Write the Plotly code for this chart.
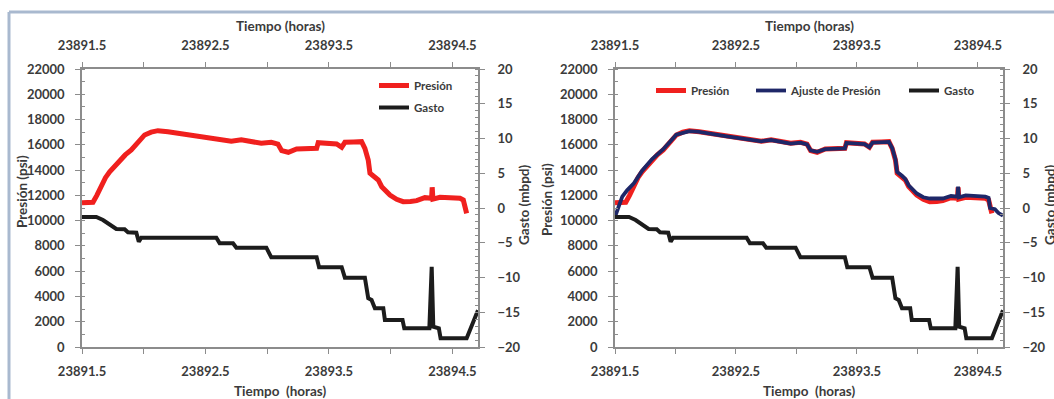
import plotly.graph_objects as go

# ---------------- data ----------------
tiempo_presion = [23891.500, 23891.589, 23891.620, 23891.656, 23891.690, 23891.724, 23891.765,
                  23891.805, 23891.850, 23891.899, 23891.950, 23892.007, 23892.060, 23892.115,
                  23892.196, 23892.300, 23892.412, 23892.500, 23892.601, 23892.709, 23892.790,
                  23892.870, 23892.952, 23893.033, 23893.087, 23893.117, 23893.171, 23893.238,
                  23893.300, 23893.400, 23893.413, 23893.490, 23893.562, 23893.603, 23893.629,
                  23893.700, 23893.764, 23893.791, 23893.818, 23893.832, 23893.872, 23893.899,
                  23893.927, 23893.960, 23893.994, 23894.048, 23894.101, 23894.160, 23894.210,
                  23894.277, 23894.331, 23894.336, 23894.342, 23894.399, 23894.480, 23894.561,
                  23894.588, 23894.615]
presion = [11420, 11450, 12000, 12820, 13400, 13870, 14350,
           14800, 15200, 15590, 16150, 16780, 17000, 17120,
           17040, 16880, 16700, 16580, 16440, 16280, 16400,
           16250, 16120, 16200, 16060, 15540, 15410, 15670,
           15700, 15720, 16170, 16120, 16065, 15800, 16200,
           16230, 16250, 15720, 14800, 13750, 13480, 13220,
           12690, 12350, 12030, 11690, 11500, 11520, 11580,
           11820, 11770, 12640, 11700, 11850, 11800, 11770,
           11630, 10580]

tiempo_ajuste = [23891.500, 23891.530, 23891.560, 23891.600, 23891.656, 23891.724, 23891.805,
                 23891.899, 23892.007, 23892.115, 23892.196, 23892.412, 23892.601, 23892.709,
                 23892.790, 23892.952, 23893.033, 23893.087, 23893.117, 23893.171, 23893.238,
                 23893.400, 23893.413, 23893.562, 23893.603, 23893.629, 23893.764, 23893.791,
                 23893.818, 23893.832, 23893.872, 23893.899, 23893.927, 23893.994, 23894.048,
                 23894.101, 23894.210, 23894.277, 23894.331, 23894.336, 23894.342, 23894.399,
                 23894.561, 23894.588, 23894.600, 23894.640, 23894.670, 23894.707]
ajuste_presion = [10300, 11200, 11900, 12400, 12950, 13950, 14850,
                  15650, 16800, 17080, 17020, 16690, 16430, 16280,
                  16380, 16100, 16170, 16040, 15560, 15450, 15660,
                  15720, 16150, 16060, 15820, 16180, 16230, 15750,
                  14850, 13850, 13550, 13300, 12800, 12150, 11850,
                  11750, 11750, 11950, 11900, 12700, 11850, 12000,
                  11900, 11800, 11000, 10900, 10600, 10400]

tiempo_gasto = [23891.500, 23891.616, 23891.670, 23891.724, 23891.778, 23891.845, 23891.872,
                23891.940, 23891.960, 23891.980, 23892.588, 23892.615, 23892.723, 23892.750,
                23892.993, 23893.033, 23893.400, 23893.420, 23893.603, 23893.629, 23893.791,
                23893.818, 23893.845, 23893.872, 23893.940, 23893.953, 23894.096, 23894.110,
                23894.313, 23894.332, 23894.345, 23894.390, 23894.404, 23894.615, 23894.707]
gasto = [-1.30, -1.30, -1.73, -2.45, -3.02, -3.07, -3.50,
         -3.55, -4.85, -4.27, -4.27, -5.08, -5.08, -5.71,
         -5.71, -7.10, -7.10, -8.53, -8.53, -10.03, -10.03,
         -12.99, -13.24, -14.43, -14.43, -16.12, -16.12, -17.31,
         -17.31, -8.45, -17.08, -17.31, -18.75, -18.75, -14.70]

x_rango = [23891.5, 23894.707]
x_ticks = [23891.5, 23892.0, 23892.5, 23893.0, 23893.5, 23894.0, 23894.5]
x_labels = ["23891.5", "", "23892.5", "", "23893.5", "", "23894.5"]
p_rango = [0, 22000]
g_rango = [-20, 20]

# ---------------- styling ----------------
W, H = 1054, 399
TXT = "#3b3b3b"
AX = "#8c8c8c"
RED = "#f0201e"
BLUE = "#1e2768"
BLACK = "#1c1c1c"
FONT = dict(family="Lato, 'Open Sans', sans-serif", size=13, color=TXT, weight="bold")


def pxx(v):
    return v / W


def pyy(v):
    return 1 - v / H


fig = go.Figure()

# left panel
fig.add_trace(go.Scatter(x=tiempo_presion, y=presion, name="Presión", mode="lines",
                         line=dict(color=RED, width=5), xaxis="x", yaxis="y",
                         legend="legend", legendgroup="p"))
fig.add_trace(go.Scatter(x=tiempo_gasto, y=gasto, name="Gasto", mode="lines",
                         line=dict(color=BLACK, width=4), xaxis="x", yaxis="y2",
                         legend="legend", legendgroup="g"))
# right panel
fig.add_trace(go.Scatter(x=tiempo_presion, y=presion, name="Presión", mode="lines",
                         line=dict(color=RED, width=5), xaxis="x2", yaxis="y3", legend="legend2"))
fig.add_trace(go.Scatter(x=tiempo_ajuste, y=ajuste_presion, name="Ajuste de Presión", mode="lines",
                         line=dict(color=BLUE, width=3.8), xaxis="x2", yaxis="y3", legend="legend3"))
fig.add_trace(go.Scatter(x=tiempo_gasto, y=gasto, name="Gasto", mode="lines",
                         line=dict(color=BLACK, width=4), xaxis="x2", yaxis="y4", legend="legend4"))
# carriers for the top axes
fig.add_trace(go.Scatter(x=x_rango, y=[None, None], xaxis="x3", yaxis="y", showlegend=False,
                         hoverinfo="skip", mode="lines"))
fig.add_trace(go.Scatter(x=x_rango, y=[None, None], xaxis="x4", yaxis="y3", showlegend=False,
                         hoverinfo="skip", mode="lines"))

common_x = dict(range=x_rango, tickvals=x_ticks, ticktext=x_labels, ticks="outside", ticklen=5,
                tickwidth=1.3, tickcolor=AX, showline=True, linecolor=AX, linewidth=1.6,
                showgrid=False, zeroline=False, tickfont=FONT, ticklabelstandoff=7,
                automargin=False)
common_yp = dict(range=p_rango, dtick=2000, tick0=0, tickformat="d", ticks="outside", ticklen=5,
                 tickwidth=1.3, tickcolor=AX, showline=True, linecolor=AX, linewidth=1.6,
                 showgrid=False, zeroline=False, tickfont=FONT, ticklabelstandoff=8,
                 automargin=False,
                 minor=dict(dtick=1000, ticks="inside", ticklen=3, tickcolor=AX, tickwidth=1))
common_yg = dict(range=g_rango, dtick=5, tick0=0, tickformat="d", ticks="outside", ticklen=5,
                 tickwidth=1.3, tickcolor=AX, showline=True, linecolor=AX, linewidth=1.6,
                 showgrid=False, zeroline=False, tickfont=FONT, ticklabelstandoff=10,
                 automargin=False,
                 minor=dict(dtick=1, ticks="inside", ticklen=3, tickcolor=AX, tickwidth=1))

ydom = [pyy(347), pyy(69)]
xdom1 = [pxx(82), pxx(478)]
xdom2 = [pxx(615), pxx(1003)]

LEGFONT = dict(size=11.5)
fig.update_layout(
    width=W, height=H,
    margin=dict(l=0, r=0, t=0, b=0),
    paper_bgcolor="white", plot_bgcolor="white",
    font=FONT,
    xaxis=dict(domain=xdom1, anchor="y", side="bottom", **common_x),
    xaxis3=dict(overlaying="x", anchor="y", side="top", matches="x", **common_x),
    yaxis=dict(domain=ydom, anchor="x", side="left", **common_yp),
    yaxis2=dict(overlaying="y", anchor="x", side="right", **common_yg),
    xaxis2=dict(domain=xdom2, anchor="y3", side="bottom", **common_x),
    xaxis4=dict(overlaying="x2", anchor="y3", side="top", matches="x2", **common_x),
    yaxis3=dict(domain=ydom, anchor="x2", side="left", **common_yp),
    yaxis4=dict(overlaying="y3", anchor="x2", side="right", **common_yg),
    legend=dict(x=pxx(374), y=pyy(71), xanchor="left", yanchor="top", orientation="v",
                bgcolor="rgba(0,0,0,0)", font=LEGFONT, itemwidth=30, tracegroupgap=3),
    legend2=dict(x=pxx(651), y=pyy(76), xanchor="left", yanchor="top",
                 bgcolor="rgba(0,0,0,0)", font=LEGFONT, itemwidth=30),
    legend3=dict(x=pxx(751), y=pyy(76), xanchor="left", yanchor="top",
                 bgcolor="rgba(0,0,0,0)", font=LEGFONT, itemwidth=30),
    legend4=dict(x=pxx(904), y=pyy(76), xanchor="left", yanchor="top",
                 bgcolor="rgba(0,0,0,0)", font=LEGFONT, itemwidth=30),
    showlegend=True,
)

ann = []


def title(text, x, y, angle=0, size=13.5):
    ann.append(dict(text=text, x=pxx(x), y=pyy(y), xref="paper", yref="paper",
                    showarrow=False, textangle=angle, xanchor="center", yanchor="middle",
                    font=dict(size=size, color=TXT)))


title("Tiempo (horas)", 280, 26)
title("Tiempo\u00a0 (horas)", 280, 391)
title("Tiempo (horas)", 809, 26)
title("Tiempo\u00a0 (horas)", 809, 391)
title("Presión (psi)", 22, 192, -90)
title("Gasto (mbpd)", 524, 205, -90)
title("Presión (psi)", 547, 200, -90)
title("Gasto (mbpd)", 1050, 205, -90)
fig.update_layout(annotations=ann)

# chart-area frame (top and left edges of the screenshot)
fig.add_shape(type="line", xref="paper", yref="paper", x0=pxx(9), x1=pxx(W + 5), y0=pyy(12), y1=pyy(12),
              line=dict(color="#a9b9cf", width=3))
fig.add_shape(type="line", xref="paper", yref="paper", x0=pxx(9), x1=pxx(9), y0=pyy(12), y1=pyy(H + 5),
              line=dict(color="#a9b9cf", width=3))

fig.write_html("out.html")
